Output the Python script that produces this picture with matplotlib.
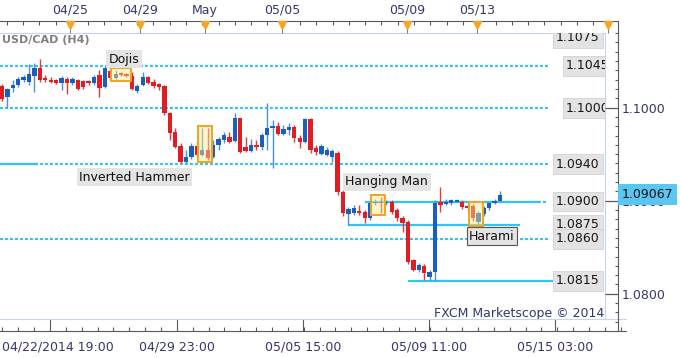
import matplotlib
matplotlib.use('Agg')
import matplotlib.pyplot as plt
import matplotlib.transforms as mtransforms
from matplotlib.patches import Rectangle
import numpy as np

# USD/CAD H4 candles
opens = [
    1.1024, 1.1012, 1.1021, 1.1025, 1.1030, 1.1028, 1.1034, 1.1043, 1.1032, 1.1030,
    1.1030, 1.1027, 1.1031, 1.1027, 1.1030, 1.1029, 1.1029, 1.1027, 1.1035, 1.1022,
    1.1040, 1.1032, 1.1037, 1.1036, 1.1034, 1.1018, 1.1025, 1.1033, 1.1028, 1.1026,
    1.1024, 1.0995, 1.0974, 1.0959, 1.0942, 1.0948, 1.0959, 1.0950, 1.0955, 1.0948,
    1.0960, 1.0966, 1.0969, 1.0965, 1.0989, 1.0958, 1.0954, 1.0960, 1.0958, 1.0971,
    1.0979, 1.0981, 1.0972, 1.0977, 1.0980, 1.0968, 1.0964, 1.0988, 1.0957, 1.0951,
    1.0950, 1.0948, 1.0952, 1.0910, 1.0887, 1.0888, 1.0890, 1.0889, 1.0882, 1.0898,
    1.0900, 1.0898, 1.0899, 1.0891, 1.0882, 1.0878, 1.0837, 1.0827, 1.0831, 1.0819,
    1.0825, 1.0899, 1.0897, 1.0898, 1.0900, 1.0899, 1.0895, 1.0895, 1.0878, 1.0887,
    1.0893, 1.0898, 1.0901]
highs = [
    1.1026, 1.1021, 1.1030, 1.1033, 1.1035, 1.1047, 1.1048, 1.1052, 1.1035, 1.1033,
    1.1031, 1.1034, 1.1033, 1.1033, 1.1031, 1.1030, 1.1030, 1.1035, 1.1041, 1.1045,
    1.1044, 1.1041, 1.1039, 1.1037, 1.1039, 1.1026, 1.1039, 1.1034, 1.1031, 1.1027,
    1.1025, 1.0996, 1.0979, 1.0963, 1.0955, 1.0963, 1.0964, 1.0979, 1.0979, 1.0966,
    1.0969, 1.0974, 1.0974, 1.0995, 1.0989, 1.0969, 1.0967, 1.0966, 1.0973, 1.1005,
    1.0987, 1.0985, 1.0982, 1.0984, 1.0982, 1.0971, 1.0989, 1.0989, 1.0960, 1.0961,
    1.0958, 1.0956, 1.0954, 1.0912, 1.0894, 1.0896, 1.0896, 1.0891, 1.0902, 1.0903,
    1.0905, 1.0902, 1.0902, 1.0893, 1.0885, 1.0880, 1.0839, 1.0834, 1.0833, 1.0827,
    1.0902, 1.0915, 1.0903, 1.0903, 1.0903, 1.0902, 1.0897, 1.0897, 1.0890, 1.0895,
    1.0900, 1.0903, 1.0911]
lows = [
    1.1007, 1.1000, 1.1017, 1.1022, 1.1028, 1.1025, 1.1017, 1.1028, 1.1028, 1.1027,
    1.1026, 1.1019, 1.1015, 1.1025, 1.1019, 1.1020, 1.1025, 1.1025, 1.1012, 1.1021,
    1.1030, 1.1031, 1.1034, 1.1033, 1.1019, 1.1016, 1.1024, 1.1026, 1.1021, 1.1019,
    1.0993, 1.0966, 1.0957, 1.0941, 1.0941, 1.0945, 1.0948, 1.0949, 1.0944, 1.0947,
    1.0955, 1.0963, 1.0963, 1.0964, 1.0952, 1.0953, 1.0953, 1.0955, 1.0955, 1.0955,
    1.0936, 1.0971, 1.0971, 1.0971, 1.0964, 1.0957, 1.0963, 1.0952, 1.0950, 1.0950,
    1.0949, 1.0942, 1.0907, 1.0885, 1.0875, 1.0886, 1.0886, 1.0877, 1.0880, 1.0896,
    1.0888, 1.0896, 1.0887, 1.0879, 1.0867, 1.0833, 1.0826, 1.0825, 1.0816, 1.0816,
    1.0815, 1.0889, 1.0896, 1.0896, 1.0899, 1.0892, 1.0890, 1.0879, 1.0876, 1.0885,
    1.0891, 1.0897, 1.0899]
closes = [
    1.1010, 1.1020, 1.1025, 1.1031, 1.1033, 1.1036, 1.1043, 1.1030, 1.1030, 1.1028,
    1.1027, 1.1032, 1.1027, 1.1031, 1.1020, 1.1022, 1.1027, 1.1033, 1.1021, 1.1043,
    1.1032, 1.1036, 1.1035, 1.1034, 1.1020, 1.1024, 1.1033, 1.1027, 1.1024, 1.1022,
    1.0995, 1.0973, 1.0958, 1.0942, 1.0948, 1.0959, 1.0950, 1.0955, 1.0947, 1.0960,
    1.0967, 1.0971, 1.0964, 1.0989, 1.0953, 1.0954, 1.0960, 1.0958, 1.0971, 1.0979,
    1.0981, 1.0972, 1.0978, 1.0980, 1.0968, 1.0964, 1.0988, 1.0955, 1.0953, 1.0959,
    1.0955, 1.0954, 1.0910, 1.0888, 1.0892, 1.0893, 1.0888, 1.0882, 1.0898, 1.0900,
    1.0898, 1.0900, 1.0889, 1.0882, 1.0877, 1.0835, 1.0827, 1.0832, 1.0823, 1.0825,
    1.0898, 1.0896, 1.0899, 1.0902, 1.0902, 1.0894, 1.0893, 1.0882, 1.0888, 1.0893,
    1.0898, 1.0901, 1.09067]
last_price = 1.09067

# horizontal levels
level_prices = [1.1075, 1.1045, 1.1000, 1.0940, 1.0900, 1.0875, 1.0860, 1.0815]
dotted_levels = [1.1045, 1.1000, 1.0940, 1.0860]
solid_levels = [1.0940, 1.0900, 1.0875, 1.0815]
solid_from = [-0.4, 67, 64, 75]      # candle index where the line starts
solid_to = [6.6, 99, 95.7, 101.8]   # candle index where the line ends

# candle patterns
patterns = ['Dojis', 'Inverted Hammer', 'Hanging Man', 'Harami']
pattern_first = [21, 37, 69, 87]
pattern_last = [23, 38, 70, 88]
pattern_label_x = [22.5, 24.5, 71.1, 90.5]
pattern_label_y = [1.1052, 1.0926, 1.0921, 1.0863]

top_labels = ['04/25', '04/29', 'May', '05/05', '05/09', '05/13', '']
top_pos = [12.56, 25.5, 37.5, 51.7, 74.8, 87.75, 112.0]
bottom_labels = ['04/22/2014 19:00', '04/29 23:00', '05/05 15:00', '05/09 11:00', '05/15 03:00']
bottom_pos = [8.87, 32.3, 55.6, 78.9, 102.2]

# layout helpers (pixels of the 680x358 picture)
W, H = 680, 358
def ix(px):
    return (px - 2) / 5.413
def price(py):
    return 1.1 + (108 - py) * 0.02 / 187

navy = '#35356e'
cyan = '#2ec4f4'
bull, bull_wick = '#1a5fc0', '#4b8ee0'
bear, bear_wick = '#e31b23', '#e8383d'

fig = plt.figure(figsize=(6.8, 3.58), dpi=100)
ax = fig.add_axes([0, 1 - 319 / H, 605 / W, 286 / H])
ax.set_xlim(ix(0), ix(605))
ax.set_ylim(price(319), price(33))
ax.set_xticks([])
ax.set_yticks([])
for s in ['left', 'bottom']:
    ax.spines[s].set_visible(False)
for s in ['top', 'right']:
    ax.spines[s].set_color('#c6d4e6')

o = np.array(opens); c = np.array(closes)
h = np.array(highs); l = np.array(lows)
idx = np.arange(len(o))
up = c >= o
ax.vlines(idx, l, h, colors=[bull_wick if u else bear_wick for u in up], lw=1.0, zorder=2)
body = np.maximum(np.abs(c - o), 0.00012)
ax.bar(idx, body, bottom=np.minimum(o, c), width=0.8,
       color=[bull if u else bear for u in up], lw=0, zorder=2.5)

# levels
ls_dot = (0, (1.4, 1.0))
end_dot = ix(548)
for p in dotted_levels:
    ax.hlines(p, ix(0), end_dot, colors=cyan, lw=1.5, linestyles=[ls_dot], zorder=1)
ax.hlines(1.0900, solid_to[1], end_dot, colors=cyan, lw=1.5, linestyles=[ls_dot], zorder=1)
for p, a, b in zip(solid_levels, solid_from, solid_to):
    ax.hlines(p, a, b, colors=cyan, lw=1.6, zorder=1.5)

for p in level_prices:
    lx = ix(566) if p in (1.1045, 1.1000) else ix(556)
    ax.text(lx, p, f'{p:.4f}', ha='left', va='center', fontsize=9, color='#151515',
            clip_on=True, zorder=4,
            bbox=dict(boxstyle='square,pad=0.25', fc='#e3e3e3', ec='#d2d2d2', lw=0.6))

# pattern boxes and labels
for name, a, b, tx, ty in zip(patterns, pattern_first, pattern_last,
                              pattern_label_x, pattern_label_y):
    lo = min(lows[a:b + 1]) - 0.0002
    hi = max(highs[a:b + 1]) + 0.0002
    ax.add_patch(Rectangle((a - 0.8, lo), b - a + 1.6, hi - lo, fc=(1, 0.92, 0.55, 0.45),
                           ec='#f5a31f', lw=1.4, zorder=3))
    ec = '#555555' if name == 'Harami' else 'none'
    ax.text(tx, ty, name, ha='center', va='center', fontsize=9, color='#111111', zorder=4,
            bbox=dict(boxstyle='square,pad=0.2', fc='#e4e4e4', ec=ec, lw=0.8))

ax.text(0.004, 1 - 7 / 286, 'USD/CAD (H4)', transform=ax.transAxes, ha='left', va='center',
        fontsize=8, fontweight='bold', color='#808080')
ax.text(0.998, 6 / 286, 'FXCM Marketscope \u00a9 2014', transform=ax.transAxes,
        ha='right', va='center', fontsize=9, color=navy)

# top date ruler
axt = fig.add_axes([0, 1 - 33 / H, 618 / W, 12 / H])
axt.set_xlim(ix(0), ix(618))
axt.set_ylim(0, 1)
axt.patch.set_visible(False)
for s in ['left', 'right', 'bottom']:
    axt.spines[s].set_visible(False)
axt.spines['top'].set_color('#5a5a5a')
axt.set_yticks([])
axt.xaxis.tick_top()
axt.set_xticks(top_pos)
axt.set_xticklabels(top_labels, fontsize=9, color=navy)
axt.set_xticks(np.arange(0.87, ix(618), 3.01), minor=True)
axt.tick_params(axis='x', which='major', direction='in', length=8.6, width=0.7,
                color='#777777', pad=3)
axt.tick_params(axis='x', which='minor', direction='in', length=3.2, width=0.8,
                color='#5a5a5a')
axt.plot(top_pos, [0.7] * len(top_pos), 'v', color='#f5a623', ms=5.5, clip_on=False, zorder=5)

# bottom time ruler
axb = fig.add_axes([0, 1 - 331 / H, 626 / W, 12 / H])
axb.set_xlim(ix(0), ix(626))
axb.patch.set_visible(False)
axb.spines['left'].set_visible(False)
axb.spines['right'].set_visible(False)
axb.spines['top'].set_color('#c6d4e6')
axb.spines['bottom'].set_color('#5a5a5a')
axb.set_yticks([])
axb.set_xticks(bottom_pos)
axb.set_xticklabels(bottom_labels, fontsize=9, color=navy)
minor_step = (bottom_pos[1] - bottom_pos[0]) / 8
axb.set_xticks(np.arange(bottom_pos[0] - 3 * minor_step, ix(626), minor_step), minor=True)
axb.tick_params(axis='x', which='major', direction='in', length=8.6, width=0.8,
                color='#5a5a5a', pad=7)
axb.tick_params(axis='x', which='minor', direction='in', length=2.9, width=0.8,
                color='#5a5a5a')
first = axb.get_xticklabels()[0]
first.set_transform(first.get_transform() +
                    mtransforms.ScaledTranslation(7.5 / 100, 0, fig.dpi_scale_trans))

# right price ruler
axr = fig.add_axes([605 / W, 1 - 331 / H, 13 / W, 310 / H])
axr.set_ylim(price(331), price(21))
axr.patch.set_visible(False)
for s in ['left', 'top', 'bottom']:
    axr.spines[s].set_visible(False)
axr.spines['right'].set_color('#5a5a5a')
axr.set_xticks([])
axr.yaxis.tick_right()
axr.set_yticks([1.08, 1.09, 1.10])
axr.set_yticklabels(['1.0800', '1.0900', '1.1000'], fontsize=9, color=navy)
axr.set_yticks(np.arange(1.076, 1.109, 0.001), minor=True)
axr.tick_params(axis='y', which='major', direction='in', length=9.4, width=0.9,
                color='#5a5a5a', pad=3)
axr.tick_params(axis='y', which='minor', direction='in', length=2.5, width=0.8,
                color='#5a5a5a')

# current price tag sits over the 1.0900 axis label, as in the platform
trans = mtransforms.blended_transform_factory(fig.transFigure, axr.transData)
fig.text(622 / W, last_price, f'{last_price:.5f}', transform=trans, ha='left', va='center',
         fontsize=9, color='#111111', zorder=10,
         bbox=dict(boxstyle='square,pad=0.3', fc='#5cc6f2', ec='none'))

fig.savefig('out.png', dpi=100)
